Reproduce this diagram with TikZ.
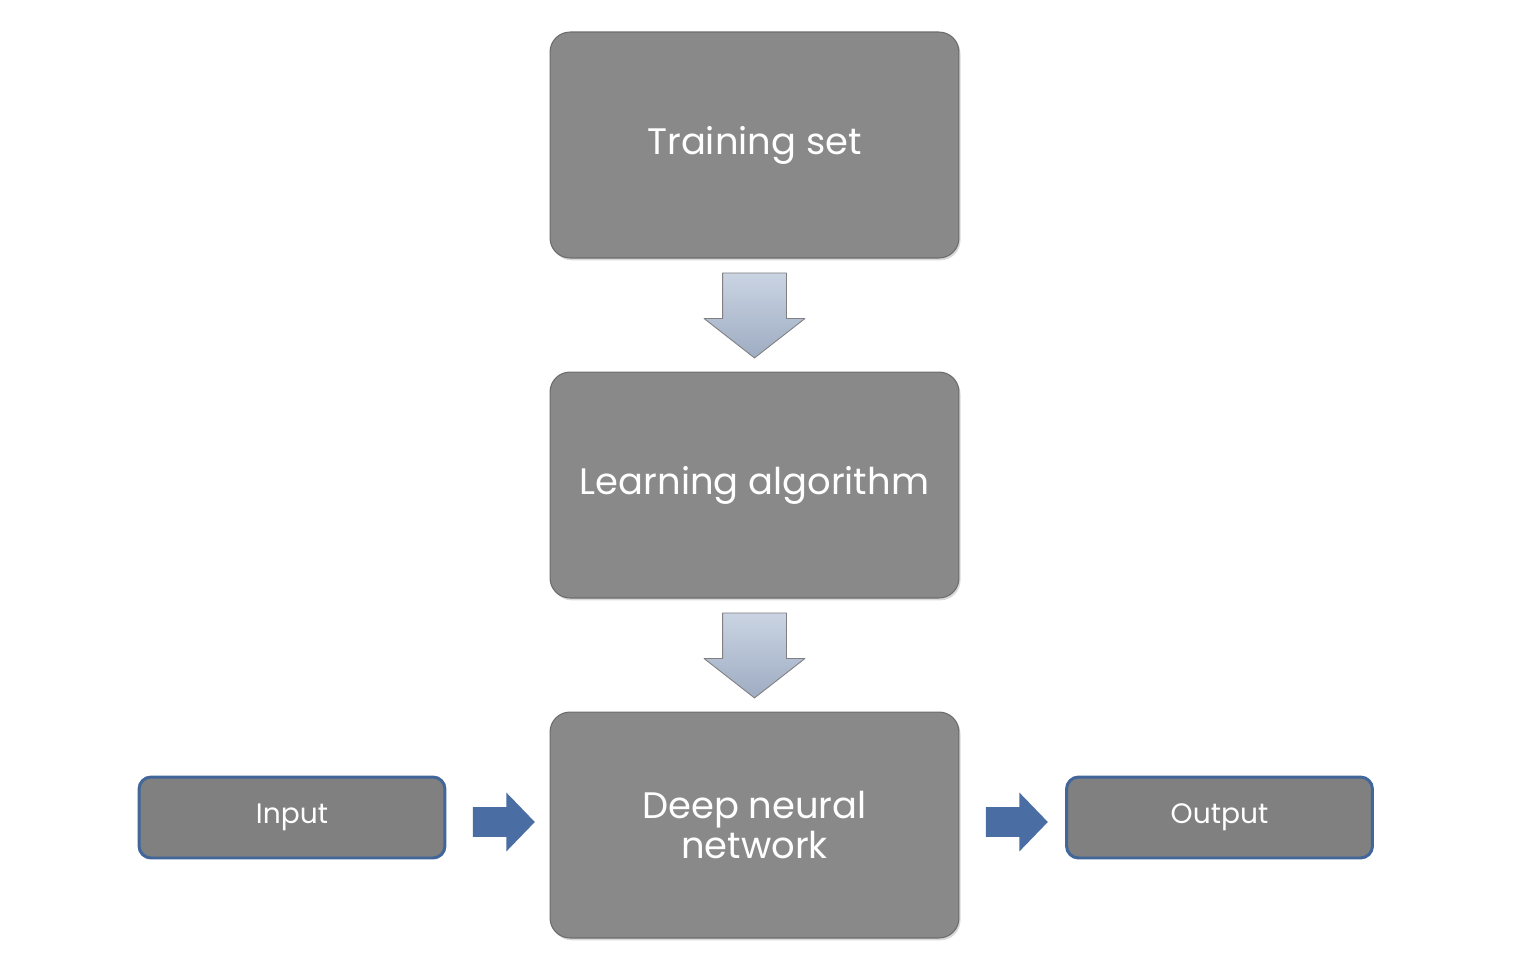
\documentclass[tikz,border=0pt]{standalone}
\usepackage{fontspec}
\setmainfont{Poppins}
\usetikzlibrary{shapes.arrows}
\usetikzlibrary{positioning}
\usetikzlibrary{shadows}
\definecolor{boxgray}{HTML}{898989}
\definecolor{iogray}{HTML}{808080}
\definecolor{ioblue}{HTML}{41669A}
\definecolor{flowblue}{HTML}{4A6DA3}
\definecolor{arrowtop}{HTML}{CAD4E3}
\definecolor{arrowbot}{HTML}{9EACC2}

\begin{document}
\begin{tikzpicture}[line cap=round,line join=round,x=0.02cm,y=-0.02cm,
stage/.style={rectangle,rounded corners=0.4cm,fill=boxgray,draw=gray!85!black,line width=0.6pt,minimum width=8.18cm,minimum height=4.52cm,inner sep=0pt,text=white,align=center,font=\fontsize{21}{23}\selectfont,drop shadow={opacity=0.3,shadow xshift=0.9pt,shadow yshift=-1.3pt}},
iobox/.style={rectangle,rounded corners=0.24cm,fill=iogray,draw=ioblue,line width=1.7pt,minimum width=6.12cm,minimum height=1.62cm,inner sep=0pt,text=white,font=\fontsize{16}{18}\selectfont},
downarrow/.style={single arrow,shape border rotate=270,single arrow tip angle=104,single arrow head extend=0.37cm,inner xsep=0.63cm,inner ysep=0pt,minimum height=1.7cm,top color=arrowtop,bottom color=arrowbot,draw=gray,line width=0.5pt},
rightarrow/.style={single arrow,single arrow tip angle=92,single arrow head extend=0.29cm,inner xsep=0pt,inner ysep=0.29cm,minimum height=1.24cm,fill=flowblue,draw=none}]
\useasboundingbox (0,0) rectangle (1536,964);
\node[stage] (train) at (754.5,145) {Training set};
\node[stage] (learn) at (754.5,485) {Learning algorithm};
\node[stage] (deep) at (754.5,825) {Deep neural\\network};
\node[iobox] (input) at (292,817.5) {Input};
\node[iobox] (output) at (1219.5,817.5) {Output};
\node[downarrow,below=0.28cm of train] (arrtrain) {};
\node[downarrow,below=0.28cm of learn] (arrlearn) {};
\node[rightarrow,right=0.52cm of input,yshift=-0.09cm] (arrinput) {};
\node[rightarrow,right=0.52cm of deep,yshift=0.06cm] (arroutput) {};
\end{tikzpicture}
\end{document}
